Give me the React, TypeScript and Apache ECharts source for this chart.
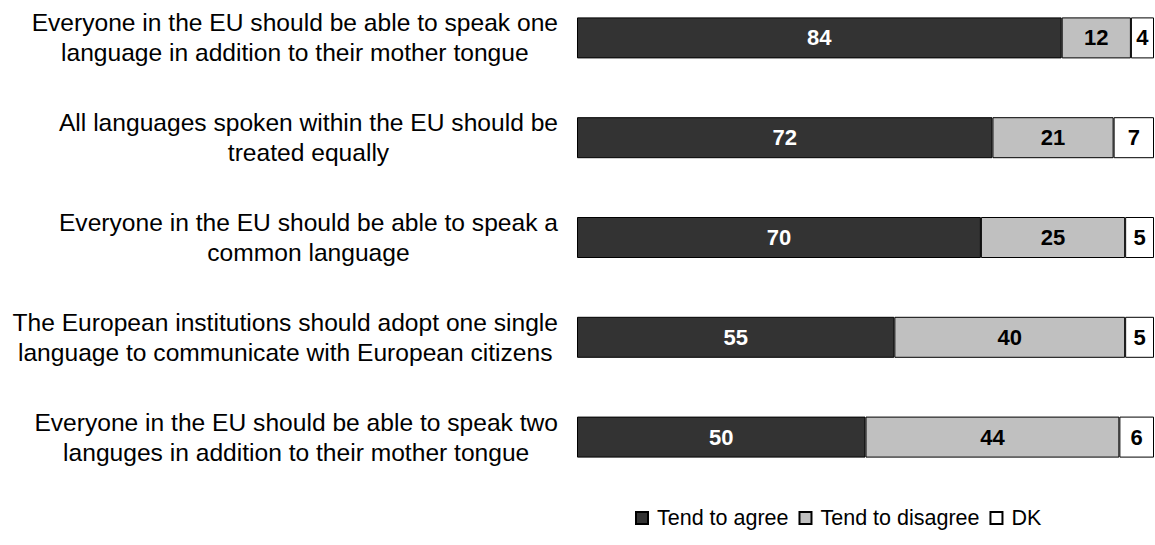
import React, { useEffect, useRef } from "react";
import * as echarts from "echarts";

const categories = [
  "Everyone in the EU should be able to speak one\nlanguage in addition to their mother tongue",
  "All languages spoken within the EU should be\ntreated equally",
  "Everyone in the EU should be able to speak a\ncommon language",
  "The European institutions should adopt one single\nlanguage to communicate with European citizens",
  "Everyone in the EU should be able to speak two\nlanguges in addition to their mother tongue",
];
const agree = [84, 72, 70, 55, 50];
const disagree = [12, 21, 25, 40, 44];
const dk = [4, 7, 5, 5, 6];
const seriesNames = ["Tend to agree", "Tend to disagree", "DK"];

const FONT = "Arial, 'Liberation Sans', sans-serif";

export default function App() {
  const ref = useRef<HTMLDivElement>(null);
  useEffect(() => {
    if (!ref.current) return;
    const chart = echarts.init(ref.current, undefined, { renderer: "svg" });
    const mk = (name: string, data: number[], color: string, labelColor: string) => ({
      name,
      type: "bar",
      stack: "total",
      data,
      barWidth: 41,
      itemStyle: { color, borderColor: "#000", borderWidth: 1 },
      label: {
        show: true,
        position: "inside",
        color: labelColor,
        fontWeight: "bold",
        fontSize: 22,
        fontFamily: FONT,
      },
    });
    chart.setOption({
      animation: false,
      textStyle: { fontFamily: FONT },
      grid: {
        left: 577,
        right: 1,
        top: -12,
        height: 499,
        containLabel: false,
        outerBoundsMode: "none",
      },
      xAxis: { type: "value", min: 0, max: 100, show: false },
      yAxis: {
        type: "category",
        inverse: true,
        data: categories,
        axisLine: { show: false },
        axisTick: { show: false },
        axisLabel: {
          margin: 19,
          align: "right",
          color: "#000",
          fontSize: 24.6,
          fontFamily: FONT,
          formatter: (v: string) =>
            v
              .split("\n")
              .map((l) => "{c|" + l + "}")
              .join("\n"),
          rich: {
            c: { align: "center", fontSize: 24.6, lineHeight: 30, color: "#000", fontFamily: FONT },
          },
        },
      },
      legend: {
        data: seriesNames,
        top: 502,
        left: 630,
        itemWidth: 12,
        itemHeight: 12,
        itemGap: 10,
        icon: "rect",
        textStyle: { fontSize: 21.5, color: "#000", fontFamily: FONT, padding: [0, 0, 0, 4] },
      },
      series: [
        mk(seriesNames[0], agree, "#333333", "#ffffff"),
        mk(seriesNames[1], disagree, "#c0c0c0", "#000000"),
        mk(seriesNames[2], dk, "#ffffff", "#000000"),
      ],
    });
    return () => chart.dispose();
  }, []);
  return (
    <div
      ref={ref}
      style={{ position: "fixed", left: 0, top: 0, width: 1155, height: 545, background: "#fff" }}
    />
  );
}
